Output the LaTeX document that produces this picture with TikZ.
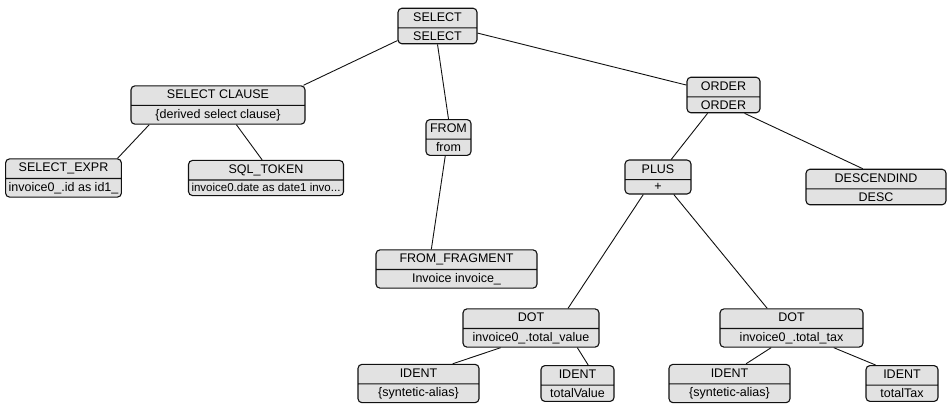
\documentclass[tikz,border=0pt]{standalone}
\usepackage{xcolor}
\usepackage{fontspec}
\setmainfont{Liberation Sans}
\usepackage{tikz}
\usetikzlibrary{shapes.multipart}
\definecolor{astInk}{HTML}{111111}
\definecolor{astFill}{HTML}{E2E2E2}

\tikzset{
  astnode/.style={rectangle split, rectangle split parts=2, draw=astInk, line width=1.1pt,
    rounded corners=4pt, fill=astFill, inner xsep=3pt, inner ysep=3pt,
    text height=9.5pt, text depth=3pt, font=\fontsize{12.5}{14}\selectfont},
  astedge/.style={astInk, line width=0.9pt}
}

\begin{document}
\begin{tikzpicture}[x=1pt, y=-1pt]
  \useasboundingbox (0,0) rectangle (948,405);

  % level 0
  \node[astnode, minimum width=79pt] (sel) at (437.5,26) {SELECT\nodepart{two}SELECT};

  % level 1
  \node[astnode, minimum width=174pt] (selcl) at (218,105) {SELECT CLAUSE\nodepart{two}\{derived select clause\}};
  \node[astnode, minimum width=45pt] (from) at (448.5,137.5) {FROM\nodepart{two}from};
  \node[astnode, minimum width=73pt] (order) at (723.5,95) {ORDER\nodepart{two}ORDER};

  % level 2
  \node[astnode, minimum width=111pt] (selexpr) at (63.5,178) {SELECT\_EXPR\nodepart{two}invoice0\_.id as id1\_};
  \node[astnode, minimum width=148pt] (sqltok) at (266,178) {SQL\_TOKEN\nodepart{two}{\fontsize{11.5}{14}\selectfont invoice0.date as date1 invo...}};
  \node[astnode, minimum width=66pt] (plus) at (658,177) {PLUS\nodepart{two}+};
  \node[astnode, minimum width=140pt] (desc) at (876,187) {DESCENDIND\nodepart{two}DESC};
  \node[astnode, minimum width=161pt] (fromfrag) at (456.5,269) {FROM\_FRAGMENT\nodepart{two}Invoice invoice\_};

  % level 3
  \node[astnode, minimum width=136pt] (dotl) at (531,328) {DOT\nodepart{two}invoice0\_.total\_value};
  \node[astnode, minimum width=143pt] (dotr) at (791.5,328) {DOT\nodepart{two}invoice0\_.total\_tax};

  % level 4
  \node[astnode, minimum width=121pt] (identa) at (418.5,383.5) {IDENT\nodepart{two}\{syntetic-alias\}};
  \node[astnode, minimum width=73pt] (identb) at (577.5,383.5) {IDENT\nodepart{two}totalValue};
  \node[astnode, minimum width=121pt] (identc) at (729.5,383.5) {IDENT\nodepart{two}\{syntetic-alias\}};
  \node[astnode, minimum width=72pt] (identd) at (902,383.5) {IDENT\nodepart{two}totalTax};

  % edges
  \draw[astedge] (sel.200) -- (selcl.13);
  \draw[astedge] (sel.south) -- (from.north);
  \draw[astedge] (sel.-10) -- (order.165);
  \draw[astedge] (selcl.196) -- (selexpr.20);
  \draw[astedge] (selcl.313) -- (sqltok.102);
  \draw[astedge] (from.260) -- (fromfrag.142);
  \draw[astedge] (order.229) -- (plus.53);
  \draw[astedge] (order.319) -- (desc.126);
  \draw[astedge] (plus.230) -- (dotl.28);
  \draw[astedge] (plus.312) -- (dotr.141);
  \draw[astedge] (dotl.213) -- (identa.30);
  \draw[astedge] (dotl.337) -- (identb.60);
  \draw[astedge] (dotr.224) -- (identc.50);
  \draw[astedge] (dotr.335) -- (identd.145);
\end{tikzpicture}
\end{document}
